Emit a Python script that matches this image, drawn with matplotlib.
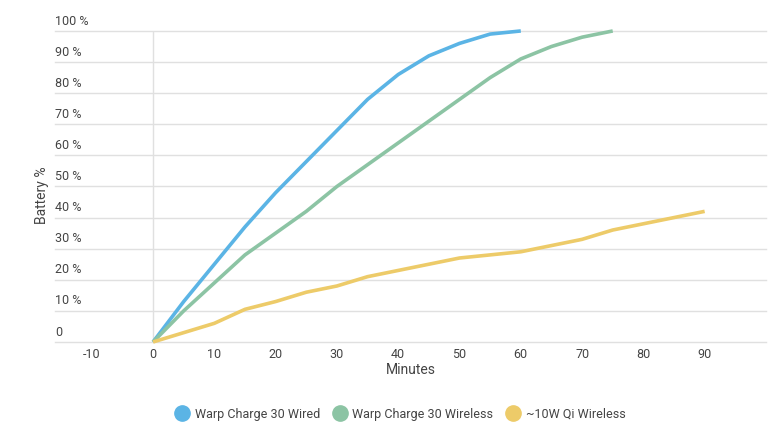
import matplotlib
matplotlib.use('Agg')
import numpy as np
import matplotlib.pyplot as plt
from matplotlib.lines import Line2D

plt.rcParams['font.family'] = ['Roboto', 'DejaVu Sans']
plt.rcParams['axes.unicode_minus'] = False

# minutes / battery %
wired_min = [0, 5, 10, 15, 20, 25, 30, 35, 40, 45, 50, 55, 60]
wired_pct = [0, 13, 25, 37, 48, 58, 68, 78, 86, 92, 96, 99, 100]

wireless_min = [0, 5, 10, 15, 20, 25, 30, 35, 40, 45, 50, 55, 60, 65, 70, 75]
wireless_pct = [0, 10, 19, 28, 35, 42, 50, 57, 64, 71, 78, 85, 91, 95, 98, 100]

qi_min = [0, 5, 10, 15, 20, 25, 30, 35, 40, 45, 50, 55, 60, 65, 70, 75, 80, 85, 90]
qi_pct = [0, 3, 6, 10.5, 13, 16, 18, 21, 23, 25, 27, 28, 29, 31, 33, 36, 38, 40, 42]

names = ['Warp Charge 30 Wired', 'Warp Charge 30 Wireless', '~10W Qi Wireless']
colors = ['#5BB4E5', '#8CC4A4', '#EDCB69']

x_ticks = [-10, 0, 10, 20, 30, 40, 50, 60, 70, 80, 90]
y_ticks = [0, 10, 20, 30, 40, 50, 60, 70, 80, 90, 100]
y_labels = ['0'] + ['%d %%' % v for v in y_ticks[1:]]

fig = plt.figure(figsize=(7.8, 4.3), dpi=100)
ax = fig.add_axes([0.0705, 0.2047, 0.9115, 0.7233])

grid_c = '#e0e0e0'
for v in y_ticks:
    ax.axhline(v, color=grid_c, lw=1, zorder=0, clip_on=False)
ax.axvline(0, color=grid_c, lw=1, zorder=0)

series = [(wired_min, wired_pct), (wireless_min, wireless_pct), (qi_min, qi_pct)]
for (xs, ys), c in zip(series, colors):
    ax.plot(xs, ys, color=c, lw=2.6, solid_capstyle='butt', solid_joinstyle='round',
            clip_on=False, zorder=3)

ax.set_xlim(-16, 100)
ax.set_ylim(0, 100)
for s in ax.spines.values():
    s.set_visible(False)

ax.set_xticks(x_ticks)
ax.tick_params(axis='x', length=0, pad=4, labelsize=9, labelcolor='#444444')
ax.set_yticks([])
for v, lab in zip(y_ticks, y_labels):
    ax.text(0.0, v + 1.1, lab, transform=ax.get_yaxis_transform(),
            ha='left', va='bottom', fontsize=9, color='#444444')

ax.set_xlabel('Minutes', fontsize=10, color='#444444', labelpad=2)
fig.text(0.054, 0.545, 'Battery %', rotation=90, ha='center', va='center',
         fontsize=10, color='#444444')

handles = [Line2D([], [], ls='none', marker='o', markersize=11, color=c) for c in colors]
fig.legend(handles, names, loc='center', bbox_to_anchor=(0.513, 0.037), ncol=3,
           frameon=False, fontsize=9, labelcolor='#444444', handletextpad=0.4,
           columnspacing=1.0, handlelength=1.2)

fig.savefig('out.png', dpi=100)
